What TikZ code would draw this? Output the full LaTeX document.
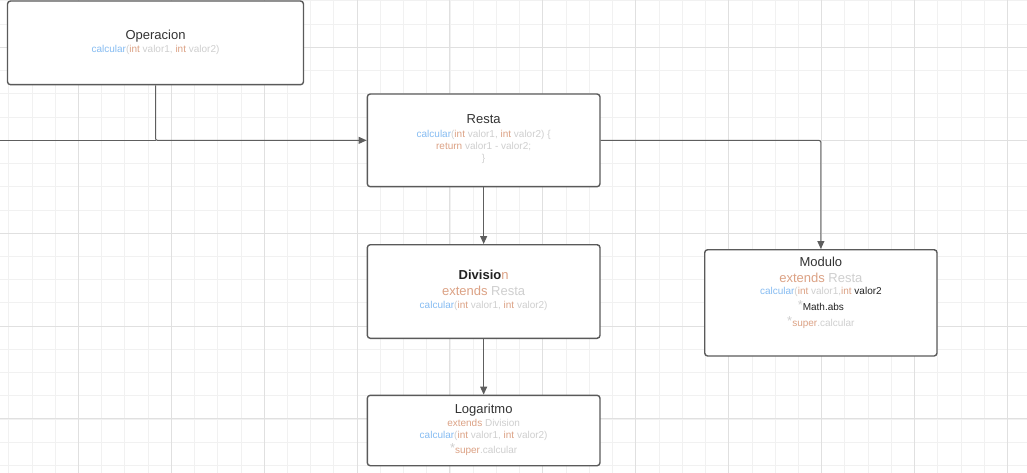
\documentclass[tikz,border=0pt]{standalone}
\usepackage{fontspec}
\setmainfont{Liberation Sans}
\usetikzlibrary{arrows.meta}
\definecolor{gminor}{HTML}{F1F1F1}
\definecolor{gmajor}{HTML}{E0E0E0}
\definecolor{boxc}{HTML}{5A5A5A}
\definecolor{edgec}{HTML}{5E5E5E}
\definecolor{titc}{HTML}{333333}
\definecolor{cblue}{HTML}{86BCF2}
\definecolor{csal}{HTML}{DCA285}
\definecolor{cgray}{HTML}{CFCFCF}
\definecolor{cdark}{HTML}{222222}
\newcommand{\myblue}[1]{\textcolor{cblue}{#1}}
\newcommand{\mysal}[1]{\textcolor{csal}{#1}}
\newcommand{\mygray}[1]{\textcolor{cgray}{#1}}
\newcommand{\myast}{\raisebox{1pt}{\textcolor{cgray}{\fontsize{13}{13}\selectfont *}}}
\begin{document}
\begin{tikzpicture}[x=1pt,y=-1pt,
  box/.style={draw=boxc, line width=1.4pt, rounded corners=3pt, fill=white, inner sep=0pt},
  ttl/.style={anchor=base, inner sep=0pt, font=\fontsize{13}{15}\selectfont, text=titc},
  big/.style={anchor=base, inner sep=0pt, font=\fontsize{13}{15}\selectfont},
  sml/.style={anchor=base, inner sep=0pt, font=\fontsize{10}{12}\selectfont},
  conn/.style={draw=edgec, line width=1pt, rounded corners=2pt},
  arr/.style={conn, -{Triangle[length=8pt,width=7pt]}}]
\useasboundingbox (0,0) rectangle (1027,473);
\clip (0,0) rectangle (1027,473);
\fill[white] (0,0) rectangle (1027,473);
% grid
\foreach \i in {0,...,44} {
  \draw[gminor, line width=0.8pt] ({8.7+23.225*\i},0) -- ++(0,473);
}
\foreach \i in {0,...,20} {
  \draw[gminor, line width=0.8pt] (0,{0.9+23.225*\i}) -- ++(1027,0);
}
\foreach \i in {-1,...,10} {
  \draw[gmajor, line width=0.9pt] ({78.3+92.9*\i},0) -- ++(0,473);
}
\foreach \i in {-1,...,5} {
  \draw[gmajor, line width=0.9pt] (0,{47.3+92.9*\i}) -- ++(1027,0);
}
% boxes
\node[box, minimum width=296pt, minimum height=83.7pt] (op) at (155.5,42.85) {};
\node[box, minimum width=232.7pt, minimum height=92.7pt] (re) at (483.65,140.35) {};
\node[box, minimum width=232.7pt, minimum height=93.6pt] (di) at (483.65,291.5) {};
\node[box, minimum width=232.3pt, minimum height=106.3pt] (mo) at (820.85,302.85) {};
\node[box, minimum width=232.7pt, minimum height=70.4pt] (lo) at (483.65,430.5) {};
% texts: Operacion
\node[ttl] (opT) at (155.5,39.3) {Operacion};
\node[sml] (opL1) at (155.5,52.2) {\myblue{calcular}\mygray{(}\mysal{int} \mygray{valor1,} \mysal{int} \mygray{valor2)}};
% Resta
\node[ttl] (reT) at (483.65,124) {Resta};
\node[sml] (reL1) at (483.65,137.2) {\myblue{calcular}\mygray{(}\mysal{int} \mygray{valor1,} \mysal{int} \mygray{valor2) \{}};
\node[sml] (reL2) at (483.65,149.2) {\mysal{return} \mygray{valor1 - valor2;}};
\node[sml] (reL3) at (483.65,161.2) {\mygray{\}}};
% Division
\node[big] (diT) at (483.65,279.7) {\textcolor{cdark}{\textbf{Divisio}}\mysal{n}};
\node[big] (diL1) at (483.65,295.7) {\mysal{extends} \mygray{Resta}};
\node[sml] (diL2) at (483.65,308.5) {\myblue{calcular}\mygray{(}\mysal{int} \mygray{valor1,} \mysal{int} \mygray{valor2)}};
% Modulo
\node[ttl] (moT) at (820.85,266.4) {Modulo};
\node[big] (moL1) at (820.85,282) {\mysal{extends} \mygray{Resta}};
\node[sml] (moL2) at (820.85,294.5) {\myblue{calcular}\mygray{(}\mysal{int} \mygray{valor1,}\mysal{int} \textcolor{cdark}{valor2}};
\node[sml] (moL3) at (820.85,310.2) {\myast\textcolor{cdark}{Math.abs}};
\node[sml] (moL4) at (820.85,326.8) {\myast\mysal{super}\mygray{.calcular}};
% Logaritmo
\node[ttl] (loT) at (483.65,413.7) {Logaritmo};
\node[sml] (loL1) at (483.65,426.8) {\mysal{extends} \mygray{Division}};
\node[sml] (loL2) at (483.65,438.2) {\myblue{calcular}\mygray{(}\mysal{int} \mygray{valor1,} \mysal{int} \mygray{valor2)}};
\node[sml] (loL3) at (483.65,453.5) {\myast\mysal{super}\mygray{.calcular}};
% connectors
\coordinate (jn) at (op.south |- re.west);
\coordinate (lft) at (0,140.35);
\draw[conn] (lft) -- (jn);
\draw[arr] (op.south) -- (jn) -- (re.west);
\draw[arr] (re.east) -- (re.east -| mo.north) -- (mo.north);
\draw[arr] (re.south) -- (di.north);
\draw[arr] (di.south) -- (lo.north);
\end{tikzpicture}
\end{document}
